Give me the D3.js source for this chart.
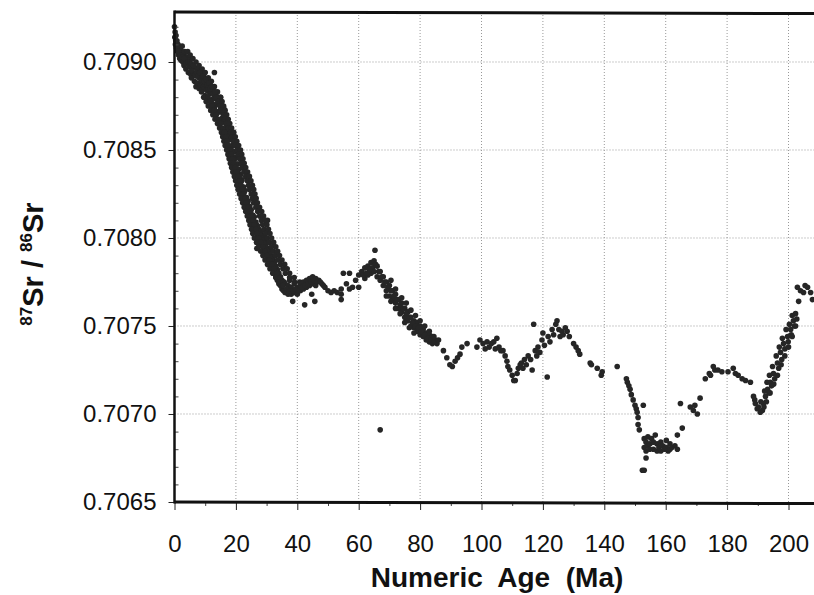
<!DOCTYPE html>
<html>
<head>
<meta charset="utf-8">
<script src="https://cdn.jsdelivr.net/npm/d3@7"></script>
<style>
  body { margin: 0; background: #fff; }
  text { font-family: "Liberation Sans", Arial, sans-serif; fill: #111; }
</style>
</head>
<body>
<script>
// tick values
const xTickValues = [0, 20, 40, 60, 80, 100, 120, 140, 160, 180, 200];
const xMinorTicks = [10, 30, 50, 70, 90, 110, 130, 150, 170, 190];
const yTickValues = [0.7065, 0.7070, 0.7075, 0.7080, 0.7085, 0.7090];

// [age (Ma), 87Sr/86Sr]
const srData = [
  // 0 - 5 Ma
  [0.0,0.70920],[0.1,0.70914],[0.2,0.70917],[0.3,0.70910],[0.5,0.70915],[0.6,0.70908],[0.8,0.70912],
  [1.0,0.70906],[1.1,0.70910],[1.3,0.70904],[1.5,0.70909],[1.7,0.70902],[1.9,0.70907],[2.1,0.70901],
  [2.3,0.70905],[2.5,0.70909],[2.7,0.70900],[2.9,0.70904],[3.1,0.70898],[3.3,0.70906],[3.5,0.70901],
  [3.7,0.70896],[3.9,0.70903],[4.1,0.70899],[4.3,0.70906],[4.5,0.70894],[4.7,0.70902],[4.9,0.70897],
  [5.1,0.70904],[5.3,0.70893],
  [0.4,0.70912],[0.9,0.70909],[1.4,0.70906],[2.0,0.70904],[2.6,0.70903],[3.2,0.70902],[3.8,0.70899],
  [4.4,0.70900],[5.0,0.70900],
  // 5 - 15 Ma
  [5.5,0.70899],[5.5,0.70891],[6.0,0.70902],[6.0,0.70894],[6.5,0.70897],[6.5,0.70889],
  [7.0,0.70900],[7.0,0.70892],[7.0,0.70886],[7.5,0.70896],[7.5,0.70888],
  [8.0,0.70898],[8.0,0.70891],[8.0,0.70885],[8.5,0.70894],[8.5,0.70887],[8.8,0.70883],
  [9.0,0.70896],[9.0,0.70889],[9.0,0.70884],[9.5,0.70892],[9.5,0.70886],
  [10.0,0.70894],[10.0,0.70887],[10.0,0.70881],[10.5,0.70890],[10.5,0.70884],
  [11.0,0.70891],[11.0,0.70885],[11.0,0.70879],[11.5,0.70888],[11.5,0.70882],
  [12.0,0.70889],[12.0,0.70883],[12.0,0.70877],[12.5,0.70885],[12.5,0.70879],
  [13.0,0.70886],[13.0,0.70880],[13.0,0.70874],[13.0,0.70894],[13.5,0.70882],[13.5,0.70876],
  [14.0,0.70883],[14.0,0.70876],[14.0,0.70871],[14.5,0.70879],[14.5,0.70872],
  [15.0,0.70880],[15.0,0.70873],[15.0,0.70867],
  [5.7,0.70895],[6.2,0.70898],[6.7,0.70893],[7.2,0.70894],[7.7,0.70892],[8.2,0.70894],[8.7,0.70890],
  [9.2,0.70892],[9.7,0.70889],[10.2,0.70890],[10.7,0.70887],[11.2,0.70888],[11.7,0.70885],
  [12.2,0.70886],[12.7,0.70882],[13.2,0.70883],[13.7,0.70879],[14.2,0.70880],[14.7,0.70876],
  // 15 - 35 Ma
  [15.5,0.70875],[15.5,0.70868],[16.0,0.70874],[16.0,0.70866],[16.5,0.70869],[16.5,0.70861],
  [17.0,0.70867],[17.0,0.70859],[17.5,0.70863],[17.5,0.70856],[18.0,0.70860],[18.0,0.70852],
  [18.5,0.70856],[18.5,0.70849],[19.0,0.70853],[19.0,0.70846],[19.5,0.70849],[19.5,0.70842],
  [20.0,0.70846],[20.0,0.70839],[20.5,0.70842],[20.5,0.70836],[21.0,0.70839],[21.0,0.70832],
  [21.5,0.70836],[21.5,0.70829],[22.0,0.70833],[22.0,0.70826],[22.5,0.70829],[22.5,0.70823],
  [23.0,0.70827],[23.0,0.70820],[23.5,0.70823],[23.5,0.70817],[24.0,0.70821],[24.0,0.70815],
  [24.5,0.70818],[24.5,0.70812],[25.0,0.70816],[25.0,0.70810],[25.5,0.70813],[25.5,0.70807],
  [26.0,0.70812],[26.0,0.70805],[26.5,0.70809],[26.5,0.70803],[26.8,0.70794],
  [27.0,0.70807],[27.0,0.70801],[27.5,0.70805],[27.5,0.70799],[28.0,0.70804],[28.0,0.70797],
  [28.5,0.70802],[28.5,0.70796],[29.0,0.70801],[29.0,0.70794],[29.5,0.70798],[29.5,0.70792],
  [30.0,0.70797],[30.0,0.70790],[30.3,0.70810],[30.5,0.70794],[30.5,0.70788],
  [31.0,0.70793],[31.0,0.70786],[31.5,0.70790],[31.5,0.70784],[32.0,0.70788],[32.0,0.70782],
  [32.5,0.70786],[32.5,0.70780],[33.0,0.70784],[33.0,0.70778],[33.5,0.70782],[33.5,0.70776],
  [34.0,0.70780],[34.0,0.70774],[34.5,0.70778],[34.5,0.70773],[35.0,0.70776],[35.0,0.70771],
  [15.2,0.70876],[15.7,0.70871],[16.2,0.70870],[16.7,0.70865],[17.2,0.70863],[17.7,0.70859],
  [18.2,0.70856],[18.7,0.70852],[19.2,0.70849],[19.7,0.70845],[20.2,0.70842],[20.7,0.70839],
  [21.2,0.70835],[21.7,0.70832],[22.2,0.70829],[22.7,0.70826],[23.2,0.70823],[23.7,0.70820],
  [24.2,0.70818],[24.7,0.70815],[25.2,0.70813],[25.7,0.70810],[26.2,0.70808],[26.7,0.70806],
  [27.2,0.70804],[27.7,0.70802],[28.2,0.70800],[28.7,0.70799],[29.2,0.70797],[29.7,0.70795],
  [30.2,0.70793],[30.7,0.70791],[31.2,0.70789],[31.7,0.70787],[32.2,0.70785],[32.7,0.70783],
  [33.2,0.70781],[33.7,0.70779],[34.2,0.70777],[34.7,0.70775],
  // edges and fill of the dense 10 - 40 Ma band, row by row
  [9.5,0.708800],[10.9,0.708800],[13.6,0.708800],[15.0,0.708800],
  [10.3,0.708775],[11.6,0.708775],[14.2,0.708775],[15.5,0.708775],
  [11.0,0.708750],[12.3,0.708750],[14.8,0.708750],[16.0,0.708750],
  [11.8,0.708725],[13.0,0.708725],[15.3,0.708725],[16.5,0.708725],
  [12.5,0.708700],[13.6,0.708700],[15.9,0.708700],[17.0,0.708700],
  [13.2,0.708675],[14.3,0.708675],[16.4,0.708675],[17.5,0.708675],
  [14.0,0.708650],[15.0,0.708650],[17.0,0.708650],[18.0,0.708650],
  [14.7,0.708625],[15.7,0.708625],[17.6,0.708625],[18.6,0.708625],
  [15.3,0.708600],[16.3,0.708600],[18.3,0.708600],[19.3,0.708600],
  [15.7,0.708575],[16.7,0.708575],[18.8,0.708575],[19.8,0.708575],
  [16.1,0.708550],[17.2,0.708550],[19.3,0.708550],[20.3,0.708550],
  [16.5,0.708525],[17.6,0.708525],[19.8,0.708525],[20.9,0.708525],
  [17.0,0.708500],[18.1,0.708500],[20.4,0.708500],[21.5,0.708500],
  [17.4,0.708475],[18.5,0.708475],[20.8,0.708475],[21.9,0.708475],
  [17.8,0.708450],[18.9,0.708450],[21.2,0.708450],[22.3,0.708450],
  [18.2,0.708425],[19.3,0.708425],[21.6,0.708425],[22.7,0.708425],
  [18.6,0.708400],[19.8,0.708400],[22.1,0.708400],[23.2,0.708400],
  [19.0,0.708375],[20.2,0.708375],[22.6,0.708375],[23.8,0.708375],
  [19.5,0.708350],[20.7,0.708350],[23.2,0.708350],[24.4,0.708350],
  [19.9,0.708325],[21.2,0.708325],[23.7,0.708325],[24.9,0.708325],
  [20.3,0.708300],[21.6,0.708300],[24.1,0.708300],[25.4,0.708300],
  [20.7,0.708275],[22.0,0.708275],[24.5,0.708275],[25.8,0.708275],
  [21.2,0.708250],[22.5,0.708250],[25.0,0.708250],[26.2,0.708250],
  [21.7,0.708225],[22.9,0.708225],[25.4,0.708225],[26.6,0.708225],
  [22.2,0.708200],[23.4,0.708200],[25.8,0.708200],[27.0,0.708200],
  [22.7,0.708175],[24.0,0.708175],[26.5,0.708175],[27.7,0.708175],
  [23.2,0.708150],[24.5,0.708150],[27.1,0.708150],[28.4,0.708150],
  [23.7,0.708125],[25.0,0.708125],[27.7,0.708125],[29.0,0.708125],
  [24.2,0.708100],[25.6,0.708100],[28.3,0.708100],[29.6,0.708100],
  [24.6,0.708075],[26.0,0.708075],[28.7,0.708075],[30.1,0.708075],
  [25.1,0.708050],[26.5,0.708050],[29.2,0.708050],[30.6,0.708050],
  [25.5,0.708025],[26.9,0.708025],[29.7,0.708025],[31.1,0.708025],
  [26.0,0.708000],[27.4,0.708000],[30.2,0.708000],[31.6,0.708000],
  [26.7,0.707975],[28.1,0.707975],[30.9,0.707975],[32.3,0.707975],
  [27.4,0.707950],[28.8,0.707950],[31.6,0.707950],[33.0,0.707950],
  [28.1,0.707925],[29.5,0.707925],[32.2,0.707925],[33.6,0.707925],
  [28.8,0.707900],[30.2,0.707900],[32.9,0.707900],[34.2,0.707900],
  [29.5,0.707875],[30.9,0.707875],[33.6,0.707875],[35.0,0.707875],
  [30.3,0.707850],[31.7,0.707850],[34.5,0.707850],[35.9,0.707850],
  [31.1,0.707825],[32.5,0.707825],[35.3,0.707825],[36.7,0.707825],
  [32.0,0.707800],[33.4,0.707800],[36.1,0.707800],[37.5,0.707800],
  [33.0,0.707775],[34.5,0.707775],[37.5,0.707775],[39.0,0.707775],
  [34.0,0.707750],[35.7,0.707750],[39.1,0.707750],[40.8,0.707750],
  // 35 - 55 Ma plateau
  [35.5,0.70775],[35.5,0.70770],[36.0,0.70774],[36.0,0.70769],[37.0,0.70773],[37.0,0.70768],
  [37.5,0.70776],[38.0,0.70772],[38.0,0.70768],[38.5,0.70764],[39.0,0.70774],[39.0,0.70769],
  [40.0,0.70772],[40.0,0.70768],[41.0,0.70774],[41.0,0.70770],[42.0,0.70775],[42.0,0.70771],
  [42.4,0.70762],[43.0,0.70776],[43.0,0.70772],[44.0,0.70777],[44.0,0.70773],[44.7,0.70768],
  [45.0,0.70778],[45.0,0.70774],[45.7,0.70764],[46.0,0.70777],[46.0,0.70773],[47.0,0.70776],
  [48.0,0.70774],[49.0,0.70772],[50.0,0.70770],[51.0,0.70769],[52.0,0.70770],[53.0,0.70769],
  [54.3,0.70771],[54.3,0.70768],[54.3,0.70765],
  [35.3,0.70773],[36.5,0.70771],[37.5,0.70770],[38.5,0.70770],[39.5,0.70771],[40.5,0.70770],
  [41.5,0.70772],[42.5,0.70773],[43.5,0.70774],[44.5,0.70775],[45.5,0.70776],[46.5,0.70775],
  [47.5,0.70775],[48.5,0.70773],
  // 55 - 86 Ma hump and decline
  [55.0,0.70780],[56.0,0.70774],[57.0,0.70780],[57.0,0.70771],[58.0,0.70772],[59.0,0.70776],
  [60.0,0.70779],[60.0,0.70772],[61.0,0.70781],[62.0,0.70783],[62.0,0.70777],
  [63.0,0.70784],[63.0,0.70779],[64.0,0.70786],[64.0,0.70780],[64.5,0.70783],
  [65.0,0.70787],[65.0,0.70781],[65.3,0.70793],[66.0,0.70784],[66.0,0.70778],
  [67.0,0.70781],[67.0,0.70776],[67.0,0.70691],[68.0,0.70778],[68.0,0.70773],
  [69.0,0.70775],[69.0,0.70770],[70.0,0.70773],[70.0,0.70767],[71.0,0.70770],[71.0,0.70765],
  [72.0,0.70768],[72.0,0.70763],[73.0,0.70765],[73.0,0.70760],[74.0,0.70763],[74.0,0.70758],
  [75.0,0.70760],[75.0,0.70755],[76.0,0.70758],[76.0,0.70753],[77.0,0.70755],[77.0,0.70750],
  [78.0,0.70753],[78.0,0.70749],[79.0,0.70752],[79.0,0.70747],[80.0,0.70750],[80.0,0.70745],
  [81.0,0.70748],[81.0,0.70744],[82.0,0.70746],[82.0,0.70742],[83.0,0.70745],[83.0,0.70741],
  [84.0,0.70744],[84.0,0.70740],[85.0,0.70742],[85.5,0.70740],
  [61.5,0.70779],[62.5,0.70780],[63.5,0.70782],[65.5,0.70785],[66.5,0.70781],[67.5,0.70778],
  [68.5,0.70775],[69.5,0.70772],[70.5,0.70770],[71.5,0.70767],[72.5,0.70765],[73.5,0.70762],
  [74.5,0.70760],[75.5,0.70757],[76.5,0.70755],[77.5,0.70752],[78.5,0.70750],[79.5,0.70749],
  [80.5,0.70747],[81.5,0.70745],[82.5,0.70743],[83.5,0.70742],[84.5,0.70741],
  [70.5,0.70776],[72.0,0.70771],[74.0,0.70766],[75.5,0.70763],[77.0,0.70759],[78.5,0.70756],
  [80.0,0.70753],[81.5,0.70750],[83.0,0.70747],[84.5,0.70744],[86.0,0.70742],
  [69.0,0.70767],[70.5,0.70764],[72.0,0.70760],[73.5,0.70757],[75.0,0.70752],[76.5,0.70749],
  [78.0,0.70746],
  // 87 - 132 Ma
  [87.6,0.70736],[88.7,0.70732],[89.7,0.70728],[90.5,0.70727],[91.4,0.70730],[92.2,0.70732],
  [93.0,0.70734],[93.6,0.70738],[95.3,0.70740],[98.5,0.70738],[99.5,0.70742],[100.5,0.70740],
  [101.2,0.70737],[101.8,0.70741],[102.5,0.70738],[103.2,0.70740],[104.0,0.70741],[104.5,0.70737],
  [105.0,0.70743],[105.7,0.70738],[106.3,0.70736],[107.0,0.70736],[107.7,0.70733],[108.3,0.70730],
  [108.6,0.70727],[109.2,0.70725],[110.0,0.70722],[110.5,0.70719],[111.0,0.70719],[111.6,0.70723],
  [112.0,0.70726],[112.6,0.70728],[113.0,0.70729],[113.5,0.70726],[114.0,0.70731],[114.6,0.70728],
  [115.2,0.70733],[116.0,0.70731],[116.5,0.70725],[117.0,0.70751],[117.5,0.70736],[118.0,0.70733],
  [118.4,0.70738],[119.0,0.70735],[119.7,0.70742],[120.0,0.70746],[120.5,0.70739],[121.4,0.70721],
  [121.7,0.70744],[122.3,0.70741],[123.0,0.70748],[123.5,0.70745],[124.2,0.70751],[124.6,0.70753],
  [125.2,0.70748],[125.6,0.70744],[126.2,0.70747],[126.6,0.70745],[127.3,0.70749],[127.9,0.70747],
  [128.6,0.70744],[130.0,0.70740],[130.8,0.70738],[131.5,0.70736],[132.0,0.70734],
  // 135 - 172 Ma
  [135.4,0.70729],[135.8,0.70728],[137.7,0.70726],[139.0,0.70722],[139.3,0.70724],[144.2,0.70727],
  [147.2,0.70720],[147.5,0.70718],[148.0,0.70716],[148.4,0.70714],[148.8,0.70711],[149.4,0.70708],
  [150.0,0.70705],[150.4,0.70703],[150.7,0.70701],[151.0,0.70698],[151.0,0.70694],[151.4,0.70691],
  [152.7,0.70705],[152.4,0.70668],[153.0,0.70668],[153.6,0.70675],
  [153.0,0.70686],[153.0,0.70681],[153.6,0.70684],[153.6,0.70679],[154.2,0.70687],[154.2,0.70682],
  [154.8,0.70683],[154.8,0.70680],[155.4,0.70686],[156.0,0.70684],[156.0,0.70680],[156.6,0.70688],
  [157.2,0.70683],[157.2,0.70679],[157.8,0.70681],[158.4,0.70684],[158.4,0.70679],[159.0,0.70682],
  [159.6,0.70680],[160.2,0.70685],[160.2,0.70681],[160.8,0.70679],[161.4,0.70683],[161.4,0.70680],
  [162.0,0.70681],[163.0,0.70682],[163.8,0.70680],[163.8,0.70688],[165.4,0.70692],[164.8,0.70706],
  [168.0,0.70704],[169.0,0.70702],[169.5,0.70705],[170.3,0.70700],[171.2,0.70709],
  // 172 - 208 Ma
  [172.9,0.70720],[174.2,0.70723],[174.6,0.70722],[175.5,0.70727],[176.0,0.70725],[177.0,0.70725],
  [178.3,0.70724],[180.3,0.70724],[182.0,0.70726],[182.7,0.70723],[183.6,0.70722],[184.9,0.70720],
  [186.0,0.70719],[187.6,0.70718],[188.6,0.70710],[189.0,0.70708],[189.2,0.70706],[189.8,0.70703],
  [190.2,0.70704],[190.8,0.70701],[191.5,0.70702],[191.8,0.70706],[192.5,0.70710],[192.2,0.70713],
  [193.2,0.70714],[193.0,0.70718],[194.1,0.70718],[193.8,0.70722],[195.1,0.70723],[194.8,0.70727],
  [196.4,0.70729],[196.0,0.70733],[197.4,0.70735],[197.0,0.70738],[198.4,0.70740],[198.0,0.70743],
  [199.7,0.70744],[199.2,0.70748],[200.7,0.70748],[200.3,0.70751],[201.6,0.70753],[201.2,0.70756],
  [202.3,0.70757],[203.3,0.70764],[202.9,0.70772],[203.9,0.70770],[204.9,0.70769],[205.4,0.70773],
  [206.2,0.70772],[207.2,0.70769],[207.8,0.70765],
  [191.0,0.70707],[192.0,0.70704],[193.6,0.70712],[194.5,0.70716],[195.5,0.70720],[196.8,0.70726],
  [197.8,0.70731],[198.8,0.70737],[199.9,0.70741],[200.9,0.70745],[201.9,0.70750],[202.7,0.70754],
  [192.8,0.70707],[194.0,0.70712],[195.2,0.70717],[196.4,0.70722],[197.6,0.70728],[198.8,0.70733],
  [200.0,0.70738],[201.2,0.70744],[202.3,0.70750]
];

const width = 814, height = 595;

const svg = d3.select("body").append("svg")
  .attr("width", width)
  .attr("height", height);

const x = d3.scaleLinear().domain([0, 208.5]).range([174.5, 814.6]);
const y = d3.scaleLinear().domain([0.7065, 0.709284]).range([502, 12]);

const plotTop = y.range()[1], plotBottom = y.range()[0], plotLeft = x.range()[0];

// dotted gridlines
svg.append("g").selectAll("line")
  .data(xTickValues.slice(1))
  .join("line")
  .attr("x1", d => x(d)).attr("x2", d => x(d))
  .attr("y1", plotTop).attr("y2", plotBottom)
  .attr("stroke", "#999")
  .attr("stroke-width", 1)
  .attr("stroke-dasharray", "1,2");

svg.append("g").selectAll("line")
  .data(yTickValues.slice(1))
  .join("line")
  .attr("x1", plotLeft).attr("x2", width)
  .attr("y1", d => y(d)).attr("y2", d => y(d))
  .attr("stroke", "#999")
  .attr("stroke-width", 1)
  .attr("stroke-dasharray", "1,2");

// points
svg.append("g")
  .selectAll("circle")
  .data(srData)
  .join("circle")
  .attr("cx", d => x(d[0]))
  .attr("cy", d => y(d[1]))
  .attr("r", 2.8)
  .attr("fill", "#262626");

// x axis
const xAxis = svg.append("g")
  .attr("transform", `translate(0,${plotBottom})`)
  .call(d3.axisBottom(x).tickValues(xTickValues).tickSize(8).tickPadding(25));
xAxis.select(".domain").remove();
xAxis.selectAll("text").style("font-size", "24px").attr("fill", "#111");
xAxis.selectAll("line").attr("stroke", "#222");

svg.append("g")
  .attr("transform", `translate(0,${plotBottom})`)
  .call(d3.axisBottom(x).tickValues(xMinorTicks).tickSize(4).tickFormat(""))
  .call(g => g.select(".domain").remove())
  .selectAll("line").attr("stroke", "#444");

// y axis
const yAxis = svg.append("g")
  .attr("transform", `translate(${plotLeft},0)`)
  .call(d3.axisLeft(y).tickValues(yTickValues).tickFormat(d3.format(".4f")).tickSize(6).tickPadding(12));
yAxis.select(".domain").remove();
yAxis.selectAll("text").style("font-size", "24px").attr("fill", "#111");
yAxis.selectAll("line").attr("stroke", "#222");

const yMinor = d3.range(7066, 7093).filter(v => v % 5 !== 0).map(v => v / 10000);
svg.append("g")
  .attr("transform", `translate(${plotLeft},0)`)
  .call(d3.axisRight(y).tickValues(yMinor).tickSize(4).tickFormat(""))
  .call(g => g.select(".domain").remove())
  .selectAll("line").attr("stroke", "#444");

// frame (right side is cut off in the scan)
svg.append("line")
  .attr("x1", plotLeft).attr("x2", plotLeft)
  .attr("y1", plotTop - 1.5).attr("y2", plotBottom + 1.5)
  .attr("stroke", "#111").attr("stroke-width", 2.5);
svg.append("line")
  .attr("x1", plotLeft).attr("x2", width)
  .attr("y1", plotTop).attr("y2", plotTop + 1.5)
  .attr("stroke", "#111").attr("stroke-width", 3);
svg.append("line")
  .attr("x1", plotLeft).attr("x2", width)
  .attr("y1", plotBottom).attr("y2", plotBottom + 1.5)
  .attr("stroke", "#111").attr("stroke-width", 3);

// axis titles
svg.append("text")
  .attr("x", 497)
  .attr("y", 587)
  .attr("text-anchor", "middle")
  .style("font-size", "28px")
  .style("font-weight", "bold")
  .style("white-space", "pre")
  .text("Numeric  Age  (Ma)");

const yTitle = svg.append("text")
  .attr("transform", "translate(43,264) rotate(-90)")
  .attr("text-anchor", "middle")
  .style("font-size", "29px")
  .style("font-weight", "bold");
yTitle.append("tspan").style("font-size", "17px").attr("dy", -11).text("87");
yTitle.append("tspan").attr("dy", 11).text("Sr / ");
yTitle.append("tspan").style("font-size", "17px").attr("dy", -11).text("86");
yTitle.append("tspan").attr("dy", 11).text("Sr");
</script>
</body>
</html>
